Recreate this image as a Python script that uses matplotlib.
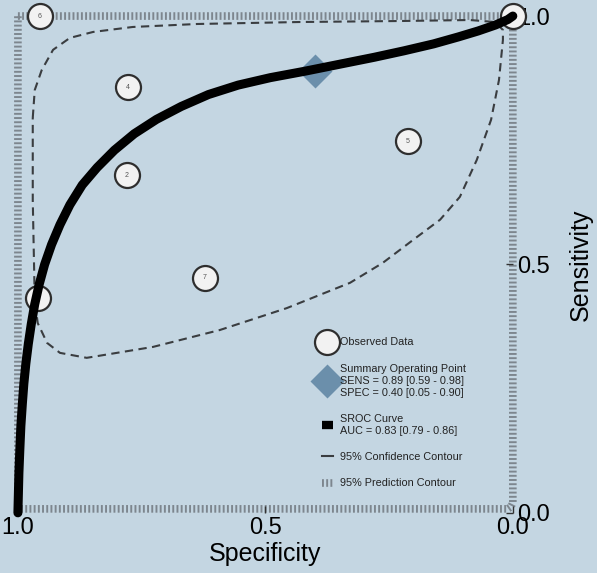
import matplotlib.pyplot as plt
from matplotlib.lines import Line2D

plt.rcParams['font.family'] = ['Liberation Sans', 'DejaVu Sans']

# observed studies (specificity, sensitivity)
study_ids = ["1", "2", "3", "4", "5", "6", "7"]
study_spec = [0.960, 0.780, 0.000, 0.778, 0.212, 0.956, 0.622]
study_sens = [0.433, 0.680, 1.000, 0.857, 0.748, 1.000, 0.473]

# summary operating point
summary_spec = 0.40
summary_sens = 0.89

# SROC curve
sroc_spec = [1.000, 0.999, 0.998, 0.996, 0.994, 0.991, 0.988, 0.984, 0.979, 0.973,
             0.966, 0.957, 0.946, 0.932, 0.915, 0.895, 0.870, 0.840, 0.805, 0.765,
             0.720, 0.670, 0.615, 0.555, 0.490, 0.420, 0.350, 0.280, 0.220, 0.160,
             0.110, 0.070, 0.035, 0.010, 0.000]
sroc_sens = [0.000, 0.040, 0.080, 0.130, 0.175, 0.220, 0.260, 0.300, 0.340, 0.380,
             0.420, 0.460, 0.500, 0.540, 0.580, 0.620, 0.660, 0.695, 0.730, 0.763,
             0.792, 0.818, 0.842, 0.861, 0.876, 0.889, 0.903, 0.917, 0.930, 0.944,
             0.958, 0.970, 0.982, 0.993, 1.000]

# 95% confidence contour
conf_spec = [0.970, 0.966, 0.952, 0.929, 0.895, 0.848, 0.768, 0.638, 0.430, 0.228,
             0.087, 0.036, 0.020, 0.020, 0.028, 0.044, 0.073, 0.107, 0.147, 0.202,
             0.263, 0.329, 0.457, 0.592, 0.727, 0.861, 0.915, 0.941, 0.960, 0.966,
             0.968, 0.970, 0.970]
conf_sens = [0.795, 0.851, 0.891, 0.932, 0.956, 0.968, 0.978, 0.984, 0.988, 0.990,
             0.992, 0.988, 0.972, 0.952, 0.871, 0.791, 0.710, 0.636, 0.590, 0.549,
             0.503, 0.463, 0.412, 0.368, 0.334, 0.312, 0.322, 0.342, 0.382, 0.429,
             0.529, 0.630, 0.795]

# 95% prediction contour (runs along the plot border)
pred_spec = [1.000, 0.000, 0.000, 0.004, 0.010, 1.000, 1.000]
pred_sens = [1.000, 1.000, 0.020, 0.012, 0.008, 0.008, 1.000]

bg = '#c4d6e2'
fig = plt.figure(figsize=(5.97, 5.73), dpi=100, facecolor=bg)
ax = fig.add_axes([0.030, 0.105, 0.829, 0.867], facecolor=bg)

pred_style = (0, (0.25, 0.3))
ax.plot(pred_spec, pred_sens, color='#7d868e', lw=5.5,
        linestyle=pred_style, clip_on=False, zorder=1)
ax.plot(conf_spec, conf_sens, color='#3a3d40', lw=1.5,
        linestyle=(0, (4, 2.6)), zorder=2)

ax.plot(study_spec, study_sens, 'o', ms=18, mfc='#f2f2f2', mec='#2e2e2e',
        mew=1.6, clip_on=False, zorder=3)
for sid, sx, sy in zip(study_ids, study_spec, study_sens):
    ax.text(sx, sy, sid, fontsize=5, color='#555555', ha='center', va='center',
            zorder=4, clip_on=False)

ax.plot(summary_spec, summary_sens, 'D', ms=17, color='#6b8fab', mec='none', zorder=4)
ax.plot(sroc_spec, sroc_sens, color='black', lw=6.5, solid_capstyle='round',
        solid_joinstyle='round', clip_on=False, zorder=5)

ax.set_xlim(1.0, 0.0)
ax.set_ylim(0.0, 1.0)
ax.set_xticks([1.0, 0.5, 0.0])
ax.set_yticks([0.0, 0.5, 1.0])
ax.set_xticklabels(['1.0', '0.5', '0.0'])
ax.set_yticklabels(['0.0', '0.5', '1.0'])
ax.yaxis.tick_right()
ax.yaxis.set_label_position('right')
ax.tick_params(direction='in', length=5, width=1, colors='#333333',
               labelcolor='black', labelsize=17, pad=3)
for sp in ax.spines.values():
    sp.set_visible(False)
ax.set_xlabel('Specificity', fontsize=18, labelpad=2)
ax.set_ylabel('Sensitivity', fontsize=18, labelpad=14)

handles = [
    Line2D([], [], ls='none', marker='o', ms=18, mfc='#f2f2f2', mec='#2e2e2e', mew=1.6),
    Line2D([], [], ls='none', marker='D', ms=17, color='#6b8fab', mec='none'),
    Line2D([], [], color='black', lw=6, solid_capstyle='butt'),
    Line2D([], [], color='#3a3d40', lw=1.5),
    Line2D([], [], color='#7d868e', lw=5.5, linestyle=pred_style),
]
labels = [
    'Observed Data',
    'Summary Operating Point\nSENS = 0.89 [0.59 - 0.98]\nSPEC = 0.40 [0.05 - 0.90]',
    'SROC Curve\nAUC = 0.83 [0.79 - 0.86]',
    '95% Confidence Contour',
    '95% Prediction Contour',
]
leg = ax.legend(handles, labels, loc='upper left', bbox_to_anchor=(0.605, 0.362),
                frameon=False, fontsize=7.8, handlelength=1.05, handletextpad=0.65,
                labelspacing=1.5, borderaxespad=0)
for t in leg.get_texts():
    t.set_color('#222222')
    t.set_linespacing(1.25)

fig.savefig('out.png', dpi=100, facecolor=bg)
